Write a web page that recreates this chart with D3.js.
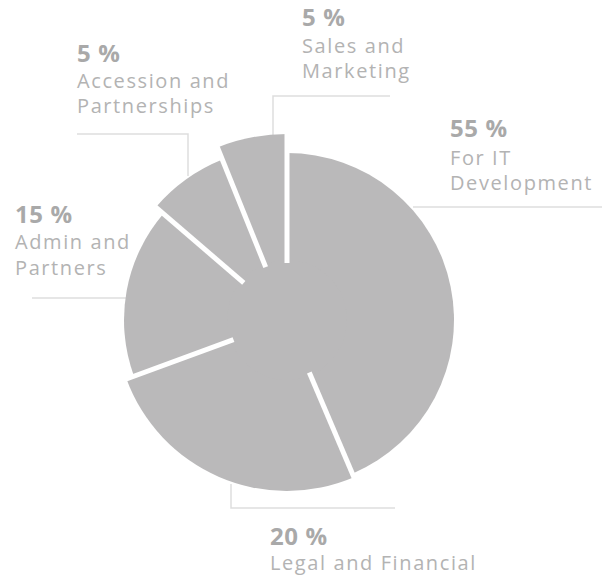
<!DOCTYPE html>
<html>
<head>
<meta charset="utf-8">
<script src="https://cdn.jsdelivr.net/npm/d3@7/dist/d3.min.js"></script>
<style>
  html, body { margin: 0; padding: 0; background: #fff; }
  svg { display: block; }
</style>
</head>
<body>
<svg id="chart" width="602" height="580"></svg>
<script>
// ---- data ----
const categories = ["For IT Development", "Legal and Financial", "Admin and Partners", "Accession and Partnerships", "Sales and Marketing"];
const labelLines = [["For IT", "Development"], ["Legal and Financial"], ["Admin and", "Partners"], ["Accession and", "Partnerships"], ["Sales and", "Marketing"]];
const percentLabels = [55, 20, 15, 5, 5];
// slice shares as drawn in the picture (angular extent)
const sliceShares = [43.6, 25.8, 16.9, 7.6, 6.1];

// ---- layout / style ----
const W = 602, H = 580;
const cx = 287, cy = 320;
const sliceRadius = [167, 171, 163, 173, 186];
const coreRadius = 57;
const gapWidth = 5;
const sliceColor = "#bab9ba";
const pctColor = "#a9a9a9";
const txtColor = "#b3b3b3";
const leaderColor = "#dedede";

const labelPos = [
  { x: 450, y: 137 },
  { x: 270, y: 545 },
  { x: 15,  y: 223 },
  { x: 77,  y: 62 },
  { x: 302, y: 26 }
];
const lineOffsets = [[28, 53], [25], [26, 52], [26, 51], [27, 52]];
const leaders = [
  [[413, 207], [602, 207]],
  [[231, 484], [231, 508], [395, 508]],
  [[32, 298], [126, 298]],
  [[77, 134], [188, 134], [188, 176]],
  [[390, 96], [273, 96], [273, 136]]
];

const svg = d3.select("#chart");

// leader lines (behind pie)
const lineGen = d3.line();
svg.append("g").selectAll("path").data(leaders).join("path")
  .attr("d", d => lineGen(d))
  .attr("fill", "none")
  .attr("stroke", leaderColor)
  .attr("stroke-width", 1.5);

const pie = d3.pie().value(d => d).sort(null).startAngle(0).endAngle(2 * Math.PI);
const arcs = pie(sliceShares);

const g = svg.append("g").attr("transform", `translate(${cx},${cy})`);

g.selectAll("path.slice").data(arcs).join("path")
  .attr("class", "slice")
  .attr("d", (d, i) => d3.arc().innerRadius(0).outerRadius(sliceRadius[i])(d))
  .attr("fill", sliceColor);

// solid core to hide anti-aliasing seams
g.append("circle").attr("r", coreRadius + 3).attr("fill", sliceColor);

// separators (gaps)
const maxR = d3.max(sliceRadius) + 4;
g.selectAll("line.gap").data(arcs).join("line")
  .attr("class", "gap")
  .attr("x1", d => d3.pointRadial(d.startAngle, coreRadius)[0])
  .attr("y1", d => d3.pointRadial(d.startAngle, coreRadius)[1])
  .attr("x2", d => d3.pointRadial(d.startAngle, maxR)[0])
  .attr("y2", d => d3.pointRadial(d.startAngle, maxR)[1])
  .attr("stroke", "#fff")
  .attr("stroke-width", gapWidth);

// labels
const lab = svg.append("g").selectAll("g").data(categories).join("g")
  .attr("transform", (d, i) => `translate(${labelPos[i].x},${labelPos[i].y})`);

lab.append("text")
  .attr("x", 0).attr("y", 0)
  .attr("font-family", "'Open Sans', sans-serif")
  .attr("font-weight", 700)
  .attr("font-size", 24)
  .attr("letter-spacing", 0.6)
  .attr("fill", pctColor)
  .text((d, i) => percentLabels[i] + " %");

lab.each(function(d, i) {
  const sel = d3.select(this);
  labelLines[i].forEach((ln, j) => {
    sel.append("text")
      .attr("x", 0)
      .attr("y", lineOffsets[i][j])
      .attr("font-family", "'Open Sans', sans-serif")
      .attr("font-size", 20)
      .attr("letter-spacing", 1.6)
      .attr("fill", txtColor)
      .text(ln);
  });
});
</script>
</body>
</html>
